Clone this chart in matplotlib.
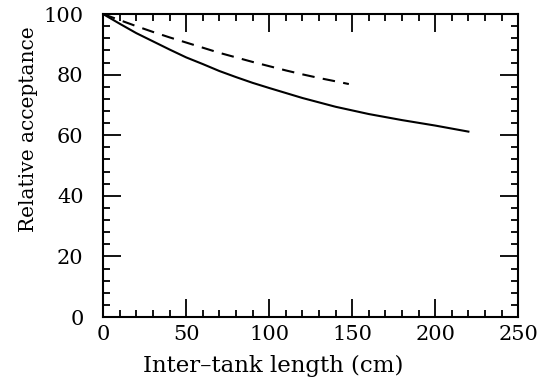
import matplotlib
matplotlib.use("Agg")
import matplotlib.pyplot as plt
from matplotlib.ticker import MultipleLocator

# solid curve
solid_x = [0, 10, 20, 30, 40, 50, 60, 70, 80, 90, 100,
           120, 140, 160, 180, 200, 220]
solid_y = [100, 96.8, 93.7, 91.0, 88.3, 85.7, 83.5, 81.2, 79.2, 77.3, 75.6,
           72.3, 69.4, 67.0, 65.0, 63.2, 61.2]
# dashed curve
dash_x = [0, 10, 20, 30, 40, 50, 60, 70, 80, 90, 100,
          110, 120, 130, 140, 148]
dash_y = [100, 98.0, 96.0, 94.1, 92.3, 90.6, 88.9, 87.2, 85.7, 84.2, 82.8,
          81.4, 80.1, 78.9, 77.8, 76.9]

x_ticks = [0, 50, 100, 150, 200, 250]
y_ticks = [0, 20, 40, 60, 80, 100]

plt.rcParams["font.family"] = ["DejaVu Serif"]

fig = plt.figure(figsize=(5.37, 3.90), dpi=100)
ax = fig.add_axes([0.192, 0.187, 0.773, 0.777])

ax.plot(solid_x, solid_y, color="black", lw=1.5)
ax.plot(dash_x, dash_y, color="black", lw=1.5, linestyle=(0, (6, 4)))

ax.set_xlim(0, 250)
ax.set_ylim(0, 100)
ax.set_xticks(x_ticks)
ax.set_yticks(y_ticks)
ax.xaxis.set_minor_locator(MultipleLocator(10))
ax.yaxis.set_minor_locator(MultipleLocator(4))
ax.tick_params(which="both", direction="in", top=True, right=True,
               width=1.3, labelsize=15, colors="black")
ax.tick_params(which="major", length=13)
ax.tick_params(which="minor", length=5)
ax.tick_params(axis="x", which="major", pad=6)
ax.tick_params(axis="y", which="major", pad=14)
for s in ax.spines.values():
    s.set_linewidth(1.5)

ax.set_xlabel("Inter\u2013tank length (cm)", fontsize=16.5)
ax.xaxis.set_label_coords(0.41, -0.125)
ax.set_ylabel("Relative acceptance", fontsize=14.5)
ax.yaxis.set_label_coords(-0.158, 0.62)

fig.savefig("out.png", dpi=100, facecolor="white")
